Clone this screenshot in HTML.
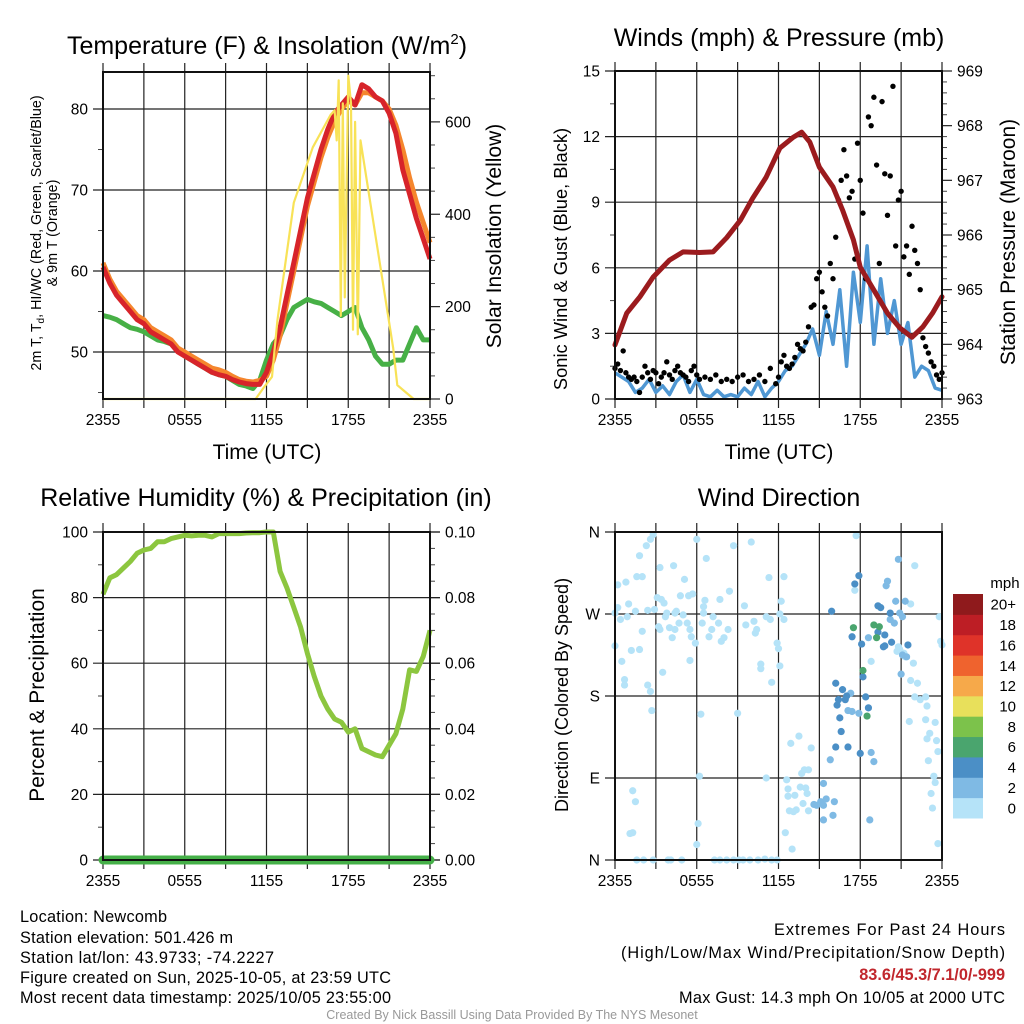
<!DOCTYPE html>
<html><head><meta charset="utf-8"><style>
html,body{margin:0;padding:0;background:#fff;}
svg{display:block;font-family:"Liberation Sans",Arial,sans-serif;}
</style></head><body>
<svg id="chart" width="1024" height="1024" viewBox="0 0 1024 1024" xmlns="http://www.w3.org/2000/svg">
<rect x="0" y="0" width="1024" height="1024" fill="#fff"/>
<text x="267" y="54" font-size="25" text-anchor="middle">Temperature (F) &amp; Insolation (W/m<tspan font-size="15" dy="-10">2</tspan><tspan dy="10">)</tspan></text>
<text x="779" y="46" font-size="25" text-anchor="middle">Winds (mph) &amp; Pressure (mb)</text>
<text x="266" y="506" font-size="25" text-anchor="middle">Relative Humidity (%) &amp; Precipitation (in)</text>
<text x="779" y="506" font-size="25" text-anchor="middle">Wind Direction</text>
<text x="267" y="459" font-size="21" text-anchor="middle">Time (UTC)</text>
<text x="779" y="459" font-size="21" text-anchor="middle">Time (UTC)</text>
<text transform="translate(41,233) rotate(-90)" font-size="14.3" text-anchor="middle">2m T, T<tspan font-size="10" dy="3">d</tspan><tspan dy="-3">, HI/WC (Red, Green, Scarlet/Blue)</tspan></text>
<text transform="translate(57,233) rotate(-90)" font-size="14.3" text-anchor="middle">&amp; 9m T (Orange)</text>
<text transform="translate(501,236) rotate(-90)" font-size="21" text-anchor="middle">Solar Insolation (Yellow)</text>
<text transform="translate(567,259) rotate(-90)" font-size="18.3" text-anchor="middle">Sonic Wind &amp; Gust (Blue, Black)</text>
<text transform="translate(1015,242) rotate(-90)" font-size="21" text-anchor="middle">Station Pressure (Maroon)</text>
<text transform="translate(44,695) rotate(-90)" font-size="21" text-anchor="middle">Percent &amp; Precipitation</text>
<text transform="translate(568,695) rotate(-90)" font-size="18" text-anchor="middle">Direction (Colored By Speed)</text>
<g font-size="16.3">
<text x="20" y="922" textLength="147">Location: Newcomb</text>
<text x="20" y="943" textLength="213">Station elevation: 501.426 m</text>
<text x="20" y="963" textLength="254">Station lat/lon: 43.9733; -74.2227</text>
<text x="20" y="983" textLength="371">Figure created on Sun, 2025-10-05, at 23:59 UTC</text>
<text x="20" y="1003" textLength="371">Most recent data timestamp: 2025/10/05 23:55:00</text>
</g>
<g font-size="16.3">
<text x="774" y="935" textLength="231">Extremes For Past 24 Hours</text>
<text x="621" y="958" textLength="384">(High/Low/Max Wind/Precipitation/Snow Depth)</text>
<text x="1005" y="980" fill="#c1272d" font-weight="bold" text-anchor="end">83.6/45.3/7.1/0/-999</text>
<text x="679" y="1003" textLength="326">Max Gust: 14.3 mph On 10/05 at 2000 UTC</text>
</g>
<text x="512" y="1019" font-size="12.5" fill="#999" text-anchor="middle">Created By Nick Bassill Using Data Provided By The NYS Mesonet</text>
</svg>
<script>
// ---- data ----
const tHalf = [0,0.5,1,1.5,2,2.5,3,3.5,4,4.5,5,5.5,6,6.5,7,7.5,8,8.5,9,9.5,10,10.5,11,11.5,12,12.5,13,13.5,14,14.5,15,15.5,16,16.5,17,17.5,18,18.5,19,19.5,20,20.5,21,21.5,22,22.5,23,23.5,24];
const xTickLabels = ["2355","0555","1155","1755","2355"];
const xTickHours = [0,6,12,18,24];
const temp2m = [60.5,58.5,57,56,55,54,53.5,52.5,52,51.5,51,50,49.5,49,48.5,48,47.5,47.2,47,46.6,46.3,46.1,46,46,47.5,50,53,57,61,65,69,72,75,77.5,79.5,80.5,81.5,80.5,83,82.5,81.5,81,79.5,77,72.5,69.5,66.5,64,61.5];
const temp9m = [61,59,57.5,56.5,55.5,54.5,54,53,52.5,52,51.5,50.5,50,49.5,49,48.5,48,47.8,47.5,47,46.6,46.4,46.3,46.5,47,49,52,56,60,64,68,71,74,76.5,78.5,80,81,80.5,82,82,81.5,81,80,78,75,71.5,68.5,66,63.5];
const dewpt = [54.5,54.3,54,53.5,53,52.8,52.5,52,51.5,51.3,51,50.2,49.5,49,48.5,48,47.5,47.2,47,46.5,46,45.8,45.5,46.5,49,51,52,54,55.5,56,56.5,56.2,56,55.5,55,54.5,55,55.5,53,51.5,49.5,48.5,48.5,49,49,51,53,51.5,51.5];
const solarT = [0,11.2,11.8,12.4,12.8,14,15.4,16.7,17.0,17.15,17.3,17.45,17.6,17.75,18.0,18.2,18.35,18.5,18.7,18.9,21.3,21.6,22.8,24];
const solarV = [0,0,25,48,170,425,545,615,625,560,690,180,640,220,700,640,150,600,140,560,110,30,0,0];
const windSpd = [1.2,1.0,0.8,0.3,0.5,0.9,0.3,0.6,0.2,0.8,1.1,0.3,0.9,0.2,0.1,0.4,0.1,0.2,0.1,0.5,0.2,0.8,0.1,0.5,0.8,1.3,1.5,2.0,2.5,3.2,2.0,4.0,2.5,5.0,1.5,5.8,3.5,7.0,2.5,5.5,3.0,4.5,2.5,3.5,1.0,1.5,1.3,0.5,0.4];
const gustT = [0,0.2,0.4,0.6,0.8,1,1.2,1.4,1.6,1.8,2,2.2,2.4,2.6,2.8,3,3.2,3.4,3.6,3.8,4,4.2,4.4,4.6,4.8,5,5.2,5.4,5.6,5.8,6,6.2,6.6,7,7.4,7.8,8.2,8.6,9,9.4,9.8,10.2,10.6,11,11.4,11.8,12,12.2,12.4,12.6,12.8,13,13.2,13.4,13.6,13.8,14,14.2,14.4,14.6,14.8,15,15.2,15.4,15.6,15.8,16,16.2,16.4,16.6,16.8,17,17.2,17.4,17.6,17.8,18,18.2,18.4,18.6,18.8,19,19.2,19.4,19.6,19.8,20,20.2,20.4,20.6,20.8,21,21.2,21.4,21.6,21.8,22,22.2,22.4,22.6,22.8,23,23.2,23.4,23.6,23.8,24];
const gustV = [1.4,1.6,1.3,2.2,1.2,1.0,0.9,1.0,0.8,0.3,1.0,1.5,1.2,0.9,1.3,1.2,0.7,1.0,1.2,1.7,1.1,0.9,1.3,1.5,1.2,1.1,1.0,0.8,1.3,1.5,1.1,0.9,1.0,0.9,1.1,0.8,0.9,0.8,1.0,1.1,0.8,0.9,1.1,0.8,1.4,0.7,1.0,1.7,2.0,1.5,1.4,1.6,1.9,2.5,2.3,2.2,2.6,3.3,4.2,4.3,5.5,5.8,4.9,4.2,3.8,6.2,5.5,7.4,9.1,10.0,11.4,10.2,9.2,9.5,6.4,11.7,10.0,8.5,5.5,12.9,12.5,13.8,10.7,6.2,13.6,10.3,8.4,10.2,14.3,7.0,9.1,9.5,6.5,7.0,5.7,7.9,6.8,6.2,5.0,2.8,2.4,2.1,1.7,1.5,1.1,0.9,1.2];
const presT = [0,0.86,1.83,2.8,4.0,5.0,6.2,7.2,8.2,9.2,10.1,11.1,12.1,13.1,13.7,14.3,15.0,16.0,16.7,17.5,18.0,19.0,20.0,20.9,21.8,22.6,23.3,24];
const presV = [963.99,964.57,964.87,965.23,965.54,965.69,965.68,965.69,965.95,966.27,966.67,967.06,967.59,967.79,967.88,967.70,967.24,966.88,966.46,965.91,965.41,964.99,964.57,964.30,964.13,964.32,964.57,964.87];
const rhVals = [81,86,87,89,91,93.5,94.5,95,97,97,98,98.5,99,98.8,99,99,98.5,99.5,99.5,99.5,99.5,99.7,99.8,99.8,100,100,88,83,77,71,63,56,50,46,43,42,39,40,34,33,32,31.5,35,38.5,46,58,57.5,62,70];
const precipVals = [0,0,0,0,0,0,0,0,0,0,0,0,0,0,0,0,0,0,0,0,0,0,0,0,0,0,0,0,0,0,0,0,0,0,0,0,0,0,0,0,0,0,0,0,0,0,0,0,0];
const dirT = [0,0.2,0.2,0.8,1.0,0.4,0.9,1.5,1.6,2.0,1.8,2.3,2.6,2.8,2.4,2.9,3.1,3.3,3.4,3.6,3.7,3.8,4.3,4.4,4.5,4.8,5.1,5.4,5.7,5.0,4.7,4.2,3.2,3.3,4.0,4.4,5.3,5.5,5.6,5.9,6.0,6.7,6.6,6.5,6.5,6.4,6.9,7.1,7.2,7.6,7.8,8.0,7.7,8.4,8.3,8.7,9.5,9.6,10.0,10.2,10.4,10.3,10.7,10.7,11.3,11.1,11.4,11.5,11.9,12.0,12.1,12.2,12.4,12.4,12.1,0.0,0.5,0.7,0.7,1.2,1.8,2.0,2.4,2.6,2.7,3.5,5.5,6.2,6.3,9.0,6.1,6.0,1.6,2.1,2.8,3.9,4.1,4.9,7.3,7.7,8.2,8.7,9.1,9.4,9.9,10.5,11.0,11.5,11.9,1.3,1.5,1.1,1.3,12.9,13.5,14.4,12.6,13.7,13.9,14.2,12.7,12.7,13.2,13.6,14.0,14.1,13.3,12.8,13.1,13.8,14.2,12.5,13.0,11.1,17.7,17.6,22.0,21.7,18.8,21.7,22.2,22.0,22.4,22.8,22.9,21.6,22.8,23.5,23.1,22.9,23.6,23.7,23.0,23.4,23.5,23.2,23.3,23.7,23.8,23.9,24.0,21.9,21.3,20.8,20.7,21.2,20.9,15.3,15.1,15.5,16.1,14.8,14.6,15.3,16.0,15.3,15.8,18.6,20.2,20.5,21.1,20.9,20.8,20.0,19.9,20.6,21.3,18.8,19.0,18.7,17.3,17.1,17.4,17.9,21.1,21.4,21.0,15.9,17.6,17.9,17.4,18.1,19.3,19.5,20.2,19.8,19.7,19.8,20.3,19.3,21.5,18.2,16.2,16.7,16.4,16.3,16.9,17.0,18.4,18.6,16.5,16.6,16.2,17.1,18.0,17.5,19.0,19.4,19.2,18.2,18.5];
const dirDeg = [271,277,302,305,281,264,267,273,311,311,334,345,352,357,274,275,288,321,286,282,267,271,323,271,273,290,308,290,292,269,260,244,256,253,255,253,260,253,245,238,352,331,285,271,278,260,245,253,267,260,240,244,286,295,253,345,279,258,349,262,253,249,215,210,310,267,264,195,238,232,213,284,264,311,270,235,218,198,192,230,231,251,192,185,164,206,219,92,160,161,40,17,0,0,0,0,0,0,0,0,0,0,0,0,0,0,1,0,0,76,64,29,30,128,136,123,88,95,99,99,78,70,71,80,79,73,55,54,53,62,54,30,12,90,356,296,323,281,218,197,194,179,176,179,169,152,154,151,139,133,131,119,109,92,85,73,57,18,267,240,236,216,223,234,229,227,231,84,64,67,64,60,61,60,49,44,110,244,264,260,267,271,330,306,301,284,284,118,108,44,183,164,163,161,225,223,204,273,303,312,245,237,279,277,271,247,234,235,239,250,236,201,194,187,176,170,176,180,179,167,156,141,124,124,117,255,258,256,244,208,158];
const dirSpd = [1,1,1,1,1,1,1,1,1,1,1,1,1,1,1,1,1,1,1,1,1,1,1,1,1,1,1,1,1,1,1,1,1,1,1,1,1,1,1,1,1,1,1,1,1,1,1,1,1,1,1,1,1,1,1,1,1,1,1,1,1,1,1,1,1,1,1,1,1,1,1,1,1,1,1,1,1,1,1,1,1,1,1,1,1,1,1,1,1,1,1,1,1,1,1,1,1,1,1,1,1,1,1,1,1,1,1,1,1,1,1,1,1,1,1,1,1,1,1,1,1,1,1,1,1,1,1,1,1,1,1,1,1,1,1,1,1,1,1,1,1,1,1,1,1,1,1,1,1,1,1,1,1,1,1,1,1,1,1,1,1,1,1,1,1,1,1,3,3,3,3,3,3,3,3,3,3,3,3,3,3,3,3,3,3,3,3,3,3,3,3,3,3,3,3,3,3,5,5,5,5,5,5,5,5,5,5,5,5,5,5,5,5,5,5,5,5,5,5,5,5,5,5,5,5,7,7,7,7,7,7];
const cbLabels = ["0","2","4","6","8","10","12","14","16","18","20+"];
const cbColors = ["#b5e3f8","#7fbae4","#4b8fc6","#4aa56e","#7cc24b","#e8e05b","#f6a94a","#ef632e","#df3329","#bd1e25","#8f1a1c"];

// ---- helpers ----
const NS = "http://www.w3.org/2000/svg";
const svg = document.getElementById("chart");
const TICK_FS = 15.5;
function mk(tag, attrs, parent){ const e = document.createElementNS(NS, tag); for (const k in attrs) e.setAttribute(k, attrs[k]); (parent||svg).appendChild(e); return e; }
function scaleX(p){ return t => p.x0 + (t/24)*(p.x1-p.x0); }
function scaleY(p, lo, hi){ return v => p.y1 - (v-lo)/(hi-lo)*(p.y1-p.y0); }

const P1 = {x0:103,x1:430,y0:72,y1:399,name:"temp"};
const P2 = {x0:615,x1:942,y0:71,y1:399,name:"wind"};
const P3 = {x0:103,x1:430,y0:532,y1:860,name:"rh"};
const P4 = {x0:615,x1:942,y0:532,y1:860,name:"direction"};

function frame(p, leftTicks, leftLo, leftHi, leftMinor, leftFmt, rightTicks, rightLo, rightHi, rightMinor, rightFmt, leftLabelsOverride){
  const g = mk("g", {});
  
  
  const sx = scaleX(p), sl = scaleY(p, leftLo, leftHi);
  for (let h=3; h<24; h+=3){
    const x = sx(h);
    const ln = mk("line", {x1:x,x2:x,y1:p.y0-9,y2:p.y1+9,stroke:"#222","stroke-width":1.2}, g);
    
    
  }
  for (let h of [0,24]){
    const x = sx(h);
    const ln = mk("line", {x1:x,x2:x,y1:p.y0-9,y2:p.y1+9,stroke:"#222","stroke-width":1.2}, g);
    
    
  }
  for (let i=0;i<xTickHours.length;i++){
    const tx = mk("text", {x:sx(xTickHours[i]), y:p.y1+26, "font-size":TICK_FS, "text-anchor":"middle"}, g);
    tx.textContent = xTickLabels[i];
    
    
  }
  leftTicks.forEach((v,i) => {
    const y = sl(v);
    const ln = mk("line", {x1:p.x0-10,x2:p.x1+(p.bothSides?10:0),y1:y,y2:y,stroke:"#222","stroke-width":1.2}, g);
    
    
    const tx = mk("text", {x:p.x0-15, y:y+5.5, "font-size":TICK_FS, "text-anchor":"end"}, g);
    tx.textContent = leftLabelsOverride ? leftLabelsOverride[i] : leftFmt(v);
    
    
  });
  leftMinor.forEach(v => {
    const y = sl(v);
    const ln = mk("line", {x1:p.x0-5,x2:p.x0,y1:y,y2:y,stroke:"#444","stroke-width":1}, g);
    
    
  });
  if (rightTicks){
    const sr = scaleY(p, rightLo, rightHi);
    rightTicks.forEach(v => {
      const y = sr(v);
      const ln = mk("line", {x1:p.x1,x2:p.x1+10,y1:y,y2:y,stroke:"#222","stroke-width":1.2}, g);
      
      
      const tx = mk("text", {x:p.x1+15, y:y+5.5, "font-size":TICK_FS}, g);
      tx.textContent = rightFmt(v);
      
      
    });
    rightMinor.forEach(v => {
      const y = sr(v);
      const ln = mk("line", {x1:p.x1,x2:p.x1+5,y1:y,y2:y,stroke:"#444","stroke-width":1}, g);
      
      
    });
  }
}
function border(p){
  const r = mk("rect", {x:p.x0,y:p.y0,width:p.x1-p.x0,height:p.y1-p.y0,fill:"none",stroke:"#111","stroke-width":2});
  
  
}
function pathFrom(xs, ys, sx, sy){
  let d = "";
  for (let i=0;i<xs.length;i++) d += (i?"L":"M") + sx(xs[i]).toFixed(1) + "," + sy(ys[i]).toFixed(1);
  return d;
}
function range(a,b,s){ const r=[]; for(let v=a; v<=b+1e-9; v+=s) r.push(+v.toFixed(4)); return r; }

// ---- panel 1 ----
const T_LO = 44.2, T_HI = 84.57, S_LO = 0, S_HI = 708;
frame(P1, [50,60,70,80], T_LO, T_HI, [45,55,65,75], v=>String(v), [0,200,400,600], S_LO, S_HI, range(50,700,50).filter(v=>v%200), v=>String(v));
{
  const sx = scaleX(P1), sy = scaleY(P1, T_LO, T_HI), ss = scaleY(P1, S_LO, S_HI);
  const g = mk("g", {});
  
  
  let e;
  e = mk("path", {d:pathFrom(tHalf, dewpt, sx, sy), fill:"none", stroke:"#47b046", "stroke-width":5, "stroke-linejoin":"round"}, g);
  
  
  e = mk("path", {d:pathFrom(tHalf, temp9m, sx, sy), fill:"none", stroke:"#f5862d", "stroke-width":5, "stroke-linejoin":"round"}, g);
  
  
  e = mk("path", {d:pathFrom(tHalf, temp2m, sx, sy), fill:"none", stroke:"#d7242a", "stroke-width":5, "stroke-linejoin":"round"}, g);
  
  
  e = mk("path", {d:pathFrom(solarT, solarV, sx, ss), fill:"none", stroke:"#f8e257", "stroke-width":2.2, "stroke-linejoin":"round"}, g);
  
  
}
border(P1);

// ---- panel 2 ----
const W_LO = 0, W_HI = 15, PR_LO = 963, PR_HI = 969;
frame(P2, [0,3,6,9,12,15], W_LO, W_HI, [1.5,4.5,7.5,10.5,13.5], v=>String(v), [963,964,965,966,967,968,969], PR_LO, PR_HI, range(963.2,968.8,0.2).filter(v=>Math.abs(v-Math.round(v))>0.01), v=>String(v));
{
  const sx = scaleX(P2), sy = scaleY(P2, W_LO, W_HI), sp = scaleY(P2, PR_LO, PR_HI);
  const g = mk("g", {});
  
  
  let e = mk("path", {d:pathFrom(tHalf, windSpd, sx, sy), fill:"none", stroke:"#4f97d3", "stroke-width":3.5, "stroke-linejoin":"round"}, g);
  
  
  for (let i=0;i<gustT.length;i++){
    const c = mk("circle", {cx:sx(gustT[i]), cy:sy(gustV[i]), r:2.7, fill:"#000"}, g);
    
    
  }
  e = mk("path", {d:pathFrom(presT, presV, sx, sp), fill:"none", stroke:"#9b1b1e", "stroke-width":5, "stroke-linejoin":"round", "stroke-linecap":"round"}, g);
  
  
}
border(P2);

// ---- panel 3 ----
P3.bothSides = true;
const RH_LO = 0, RH_HI = 100, PC_LO = 0, PC_HI = 0.1;
frame(P3, [0,20,40,60,80,100], RH_LO, RH_HI, [10,30,50,70,90], v=>String(v), [0,0.02,0.04,0.06,0.08,0.1], PC_LO, PC_HI, range(0.005,0.095,0.005).filter(v=>Math.abs(v*50-Math.round(v*50))>0.01), v=>v.toFixed(2));
{
  const sx = scaleX(P3), sy = scaleY(P3, RH_LO, RH_HI), sp = scaleY(P3, PC_LO, PC_HI);
  const g = mk("g", {});
  
  
  let e = mk("path", {d:pathFrom(tHalf, rhVals, sx, sy), fill:"none", stroke:"#8cc63f", "stroke-width":5, "stroke-linejoin":"round"}, g);
  
  
  e = mk("path", {d:pathFrom(tHalf, precipVals, sx, sp), fill:"none", stroke:"#45b048", "stroke-width":9, "stroke-linecap":"round"}, g);
  
  
}
border(P3);

// ---- panel 4 ----
frame(P4, [0,90,180,270,360], 0, 360, [], v=>"", null,0,0,[],null, ["N","E","S","W","N"]);
{
  const sx = scaleX(P4), sy = scaleY(P4, 0, 360);
  const g = mk("g", {});
  
  
  for (let i=0;i<dirT.length;i++){
    const idx = Math.min(10, Math.floor(dirSpd[i]/2));
    const c = mk("circle", {cx:sx(dirT[i]), cy:sy(dirDeg[i]), r:3.6, fill:cbColors[idx]}, g);
    
    
  }
}
border(P4);
{
  const g = mk("g", {});
  
  
  const top = 594, bot = 818, h = (bot-top)/cbColors.length;
  for (let i=0;i<cbColors.length;i++){
    const y = bot - (i+1)*h;
    const r = mk("rect", {x:953, y:y, width:30, height:h+0.5, fill:cbColors[i]}, g);
    
    
    const t = mk("text", {x:1016, y:y+h/2+5.5, "font-size":15, "text-anchor":"end"}, g);
    t.textContent = cbLabels[i];
    
    
  }
  const m = mk("text", {x:1005, y:588, "font-size":15, "text-anchor":"middle"}, g);
  m.textContent = "mph";
  
  
}
</script>
</body></html>
